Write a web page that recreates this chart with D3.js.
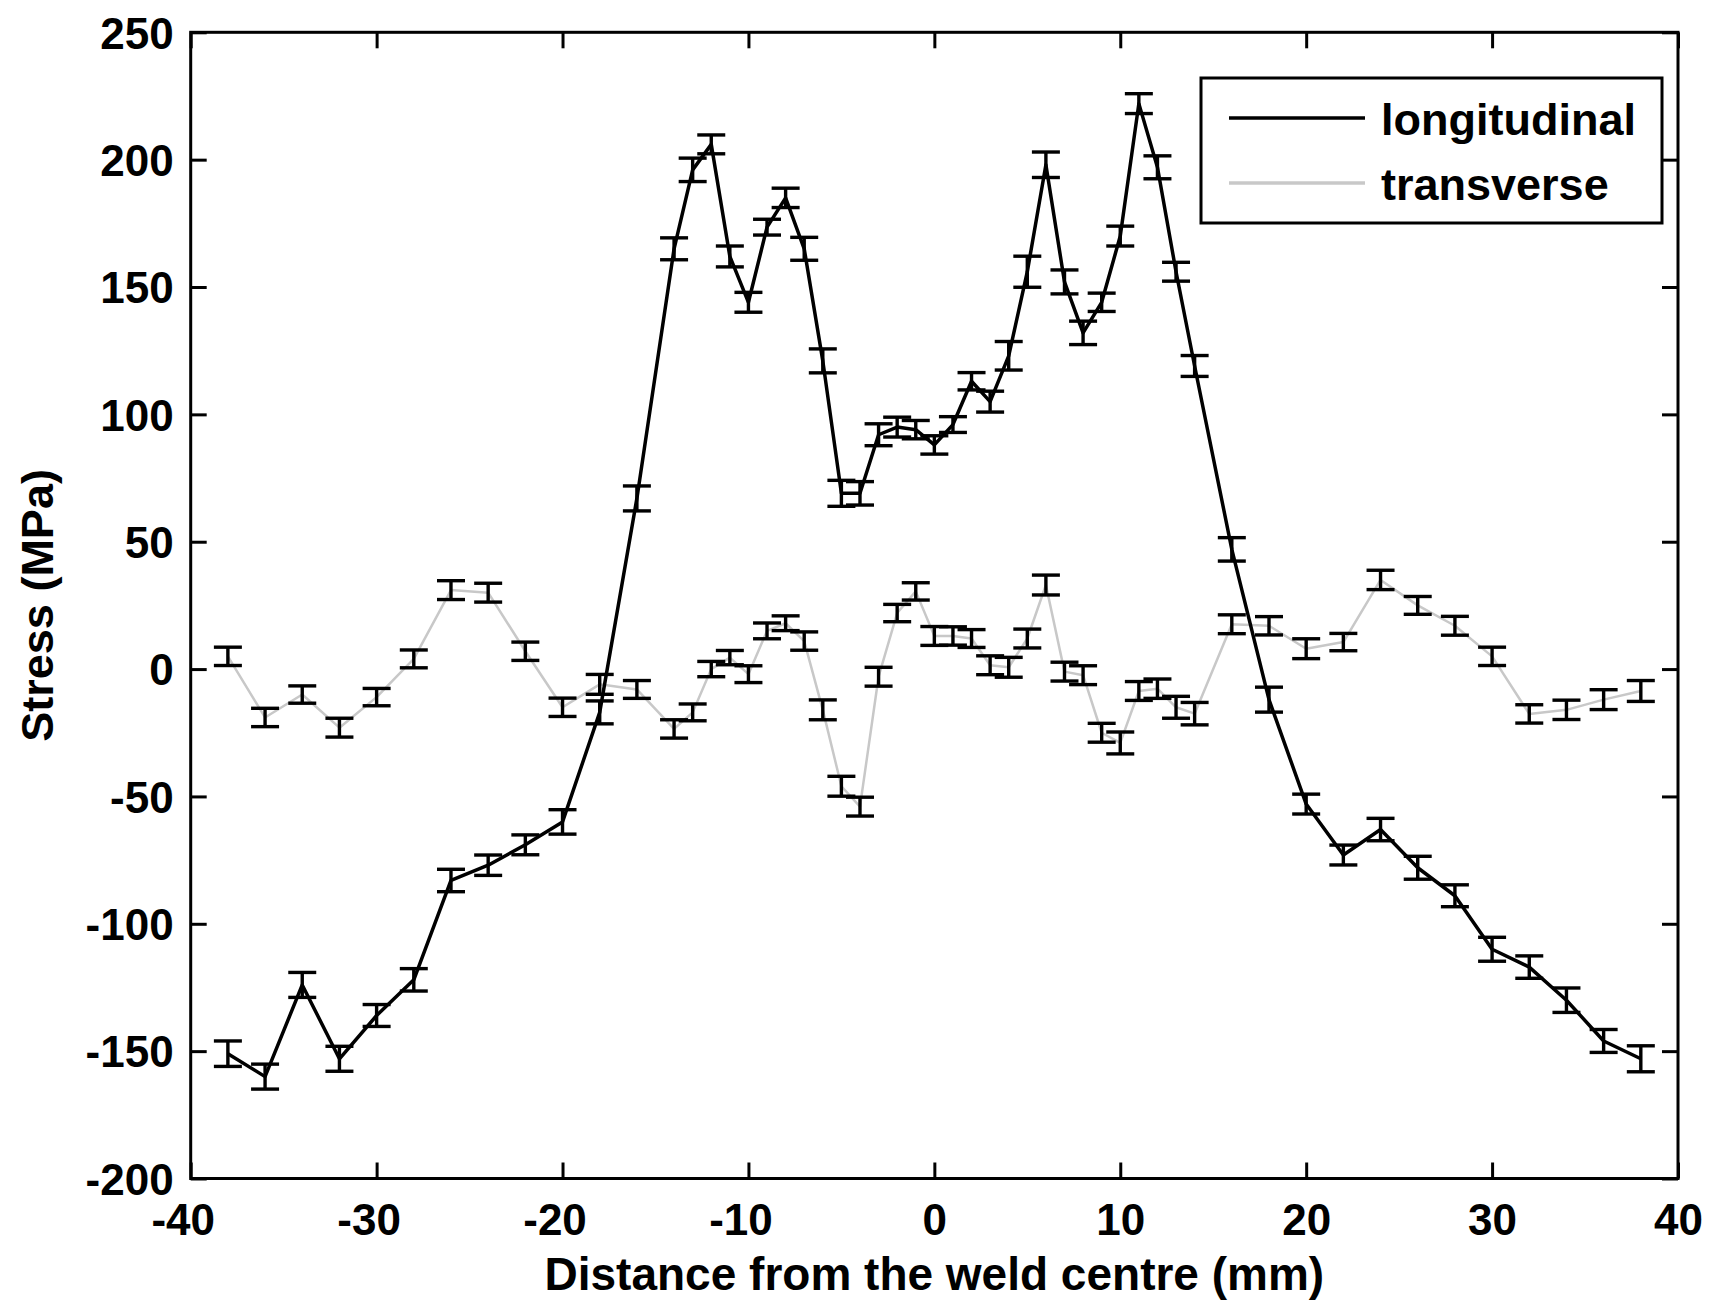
<!DOCTYPE html>
<html><head><meta charset="utf-8">
<script src="https://cdn.jsdelivr.net/npm/d3@7"></script>
<style>
body{margin:0;background:#fff}
svg{display:block;background:#fff}
text{font-family:"Liberation Sans",Arial,Helvetica,sans-serif;font-weight:bold;fill:#000}
</style>
</head><body>
<svg id="chart" width="1712" height="1304"></svg>
<script>
// ---- data ----
const positions = [-38,-36,-34,-32,-30,-28,-26,-24,-22,-20,-18,-16,-14,
  -13,-12,-11,-10,-9,-8,-7,-6,-5,-4,-3,-2,-1,0,1,2,3,4,5,6,7,8,9,10,11,12,13,14,
  16,18,20,22,24,26,28,30,32,34,36,38];
const longitudinal = [-151,-160,-124,-153,-136,-122,-83,-77,-69,-60,-17,67,165,
  196,206,162,144,173.5,185,165,121,69,69,92,95,94,88,96,113,105,123,156,198,152,132,144,170,222,197,156,119,
  47,-12,-53,-73,-63,-78,-89,-110,-117,-130,-146,-153];
const longitudinalErr = [5.0,4.9,4.9,4.9,4.3,4.4,4.4,4.0,3.9,4.8,4.5,4.9,4.3,
  4.6,3.7,4.1,3.9,3.1,3.8,4.5,4.7,5.1,4.6,4.3,3.9,3.6,3.6,3.1,3.4,4.1,5.6,6.1,5.0,4.7,4.6,3.6,3.9,3.9,4.5,3.7,4.1,
  4.6,4.9,3.9,3.9,4.4,4.5,4.3,4.7,4.4,4.8,4.5,5.1];
const transverse = [5,-19,-10,-23,-11,4,31,30,7,-15,-6,-8,-23.5,
  -17,0,4.5,-2,15,18,11,-16,-46,-54,-3,22,30.5,13,13,12,1.5,0.7,12,33,-1,-2.4,-25,-29,-8.6,-7.7,-15,-17.5,
  17.6,17,8,10.6,35,25,17,5,-17.6,-16,-12,-8.6];
const transverseErr = [3.6,3.6,3.4,3.7,3.4,3.5,3.7,3.7,3.6,3.6,3.9,3.5,3.6,
  3.3,3.0,2.8,3.3,3.1,2.9,3.6,3.9,3.9,3.7,3.7,3.4,3.4,3.7,3.6,3.5,3.7,3.9,3.7,3.9,3.7,3.7,3.7,4.3,3.7,3.8,4.3,4.4,
  3.7,3.6,3.9,3.4,3.8,3.5,3.7,3.6,3.6,3.8,3.9,4.1];
const xTicks = [-40,-30,-20,-10,0,10,20,30,40];
const yTicks = [-200,-150,-100,-50,0,50,100,150,200,250];
const seriesNames = ["longitudinal","transverse"];
const seriesColors = ["#000000","#c8c8c8"];
const xTitle = "Distance from the weld centre (mm)";
const yTitle = "Stress (MPa)";

// ---- layout ----
const L = 190.7, R = 1678, T = 32.3, B = 1178.5;
const svg = d3.select("#chart");
const x = d3.scaleLinear().domain([-40,40]).range([L,R]);
const y = d3.scaleLinear().domain([-200,250]).range([B,T]);
const FS = 44;
const fmt = d => String(d);

// axes
const gx = svg.append("g").attr("transform",`translate(0,${B})`)
  .call(d3.axisBottom(x).tickValues(xTicks).tickSize(-16).tickPadding(25).tickFormat(fmt));
gx.selectAll("text").attr("dx", d => d < 0 ? -8 : 0);
const gxt = svg.append("g").attr("transform",`translate(0,${T})`)
  .call(d3.axisTop(x).tickValues(xTicks).tickSize(-16).tickFormat(""));
const gy = svg.append("g").attr("transform",`translate(${L},0)`)
  .call(d3.axisLeft(y).tickValues(yTicks).tickSize(-16).tickPadding(17).tickFormat(fmt));
gy.selectAll("text").attr("dy","0.36em");
const gyr = svg.append("g").attr("transform",`translate(${R},0)`)
  .call(d3.axisRight(y).tickValues(yTicks).tickSize(-16).tickFormat(""));
[gx,gxt,gy,gyr].forEach(g=>{
  g.select(".domain").remove();
  g.selectAll(".tick line").attr("stroke","#000").attr("stroke-width",3);
  g.selectAll("text").style("font-size",FS+"px").style("font-family",'"Liberation Sans",Arial,sans-serif').style("font-weight","bold").attr("fill","#000");
});

// series
const capHalf = 14;
function drawSeries(vals, errs, color, lw){
  const pts = positions.map((p,i)=>({x:p,y:vals[i],e:errs[i]}));
  const g = svg.append("g");
  g.append("path").datum(pts)
    .attr("fill","none").attr("stroke",color).attr("stroke-width",lw)
    .attr("stroke-linejoin","round")
    .attr("d", d3.line().x(d=>x(d.x)).y(d=>y(d.y)));
  const eb = g.selectAll("g.eb").data(pts).join("g").attr("class","eb")
    .attr("stroke","#000").attr("stroke-width",3.4);
  eb.append("line").attr("x1",d=>x(d.x)).attr("x2",d=>x(d.x))
    .attr("y1",d=>y(d.y-d.e)).attr("y2",d=>y(d.y+d.e));
  eb.append("line").attr("x1",d=>x(d.x)-capHalf).attr("x2",d=>x(d.x)+capHalf)
    .attr("y1",d=>y(d.y+d.e)).attr("y2",d=>y(d.y+d.e));
  eb.append("line").attr("x1",d=>x(d.x)-capHalf).attr("x2",d=>x(d.x)+capHalf)
    .attr("y1",d=>y(d.y-d.e)).attr("y2",d=>y(d.y-d.e));
}
drawSeries(transverse, transverseErr, seriesColors[1], 2.5);
drawSeries(longitudinal, longitudinalErr, seriesColors[0], 3.5);

// frame
svg.append("rect").attr("x",L).attr("y",T).attr("width",R-L).attr("height",B-T)
  .attr("fill","none").attr("stroke","#000").attr("stroke-width",3);

// legend
const lg = svg.append("g");
lg.append("rect").attr("x",1201).attr("y",78).attr("width",461).attr("height",145)
  .attr("fill","#fff").attr("stroke","#000").attr("stroke-width",3);
seriesNames.forEach((n,i)=>{
  const ly = 118 + i*65;
  lg.append("line").attr("x1",1229).attr("x2",1365).attr("y1",ly).attr("y2",ly)
    .attr("stroke",seriesColors[i]).attr("stroke-width",3.5);
  lg.append("text").attr("x",1381).attr("y",ly+17).style("font-size","45px").text(n);
});

// titles
svg.append("text").attr("x",(L+R)/2).attr("y",1290).attr("text-anchor","middle")
  .style("font-size","46px").text(xTitle);
svg.append("text").attr("transform",`translate(53,${(T+B)/2}) rotate(-90)`)
  .attr("text-anchor","middle").style("font-size","45px").text(yTitle);
</script>
</body></html>
